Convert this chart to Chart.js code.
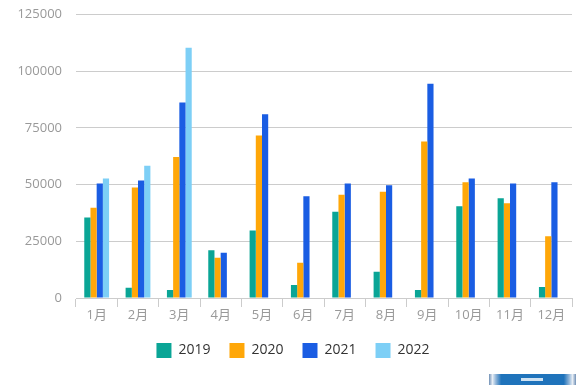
<!DOCTYPE html>
<html>
<head>
<meta charset="utf-8">
<script src="https://cdn.jsdelivr.net/npm/chart.js@4"></script>
<style>
html,body{margin:0;padding:0;background:#fff;}
#wrap{position:relative;width:586px;height:391px;overflow:hidden;}
canvas{display:block;}
#btn{position:absolute;left:489px;top:374px;width:87px;height:11px;
background:linear-gradient(90deg,#6f8fb5 0,#e8eef5 4%,#8fb4d8 8%,#1f73bb 14%,#1f73bb 86%,#8fb4d8 92%,#e8eef5 96%,#6f8fb5 100%);}
#btn span{position:absolute;left:32px;top:4px;width:22px;height:3px;background:#cfe2f2;}
</style>
</head>
<body>
<div id="wrap"><canvas id="c" width="586" height="391"></canvas><div id="btn"><span></span></div></div>
<script>
const months = ['1月','2月','3月','4月','5月','6月','7月','8月','9月','10月','11月','12月'];
const years = ['2019','2020','2021','2022'];
const v2019 = [35500,4500,3500,21000,29800,5700,38000,11600,3500,40500,44000,4800];
const v2020 = [39800,48700,62200,17800,71600,15500,45500,46800,69000,51000,41800,27200];
const v2021 = [50500,51800,86200,20000,81000,44900,50500,49700,94500,52700,50500,51000];
const v2022 = [52700,58300,110300,null,null,null,null,null,null,null,null,null];
const colors = ['#0aa596','#ffa708','#1a5de3','#7dcff6'];
const series = [v2019,v2020,v2021,v2022];
const fontFam = '"Open Sans","Noto Sans CJK SC",sans-serif';

new Chart(document.getElementById('c'),{
  type:'bar',
  data:{labels:months,datasets:series.map((d,i)=>({label:years[i],data:d,backgroundColor:colors[i],borderWidth:0,categoryPercentage:0.6,barPercentage:1}))},
  options:{
    responsive:false,animation:false,
    layout:{padding:{left:14,right:14,top:0,bottom:23}},
    plugins:{
      tooltip:{enabled:false},
      legend:{position:'bottom',labels:{boxWidth:15,boxHeight:15,padding:19,color:'#333',font:{family:fontFam,size:14}}}
    },
    scales:{
      x:{
        grid:{drawOnChartArea:false,drawTicks:true,tickLength:9,tickColor:'#ccc',color:'#ccc'},
        border:{color:'#ccc'},
        ticks:{color:'#999',font:{family:fontFam,size:13},padding:0,maxRotation:0,autoSkip:false},
        afterFit(s){s.height=26;}
      },
      y:{
        min:0,max:125000,
        grid:{color:'#ccc',drawTicks:false},
        border:{display:false},
        ticks:{stepSize:25000,color:'#999',font:{family:fontFam,size:13},padding:14,callback:v=>String(v)},
        afterFit(s){s.width=62;s.paddingTop=14.5;s.paddingBottom=0;}
      }
    }
  }
});
</script>
</body>
</html>
